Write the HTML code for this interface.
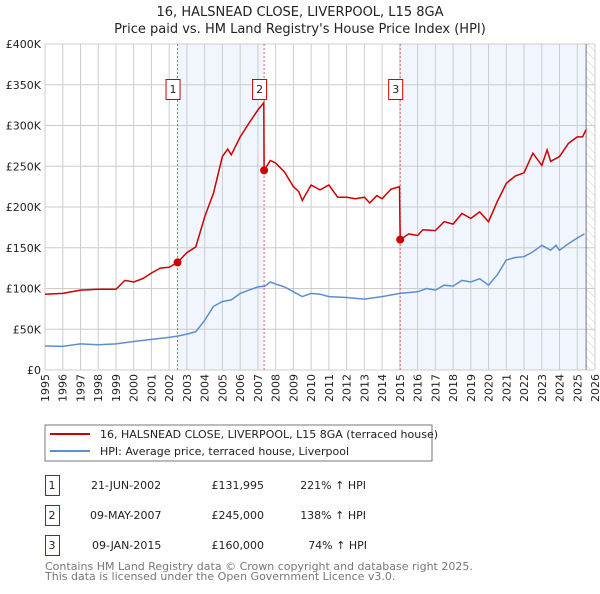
<!DOCTYPE html>
<html><head><meta charset="utf-8"><style>
body{margin:0;background:#fff;font-family:"DejaVu Sans","Liberation Sans",sans-serif;}
svg text{font-family:"DejaVu Sans","Liberation Sans",sans-serif;}
</style></head><body>
<svg id="c" width="600" height="590" xmlns="http://www.w3.org/2000/svg">
<defs><pattern id="hatch" width="6" height="6" patternUnits="userSpaceOnUse" patternTransform="rotate(-45)"><line x1="0" y1="0" x2="0" y2="6" stroke="#ccc" stroke-width="1"/></pattern></defs>
<text x="300" y="16" text-anchor="middle" font-size="13" fill="#222">16, HALSNEAD CLOSE, LIVERPOOL, L15 8GA</text>
<text x="300" y="33" text-anchor="middle" font-size="13" fill="#222">Price paid vs. HM Land Registry's House Price Index (HPI)</text>
<g id="plot"></g>
<g>
<rect x="45" y="425" width="387" height="36" fill="#fff" stroke="#777"/>
<line x1="50" y1="434" x2="90" y2="434" stroke="#cc0000" stroke-width="2"/>
<text x="100" y="438" font-size="11" fill="#222">16, HALSNEAD CLOSE, LIVERPOOL, L15 8GA (terraced house)</text>
<line x1="50" y1="451" x2="90" y2="451" stroke="#5b8fd0" stroke-width="2"/>
<text x="100" y="455" font-size="11" fill="#222">HPI: Average price, terraced house, Liverpool</text>
</g>
<g font-size="11" fill="#222">
<rect x="45.5" y="475.5" width="14" height="20" fill="none" stroke="#cc0000"/><text x="52" y="489" text-anchor="middle">1</text>
<text x="91" y="489">21-JUN-2002</text><text x="264" y="489" text-anchor="end">£131,995</text><text x="366" y="489" text-anchor="end">221% ↑ HPI</text>
<rect x="45.5" y="505.5" width="14" height="20" fill="none" stroke="#cc0000"/><text x="52" y="519" text-anchor="middle">2</text>
<text x="90" y="519">09-MAY-2007</text><text x="264" y="519" text-anchor="end">£245,000</text><text x="366" y="519" text-anchor="end">138% ↑ HPI</text>
<rect x="45.5" y="535.5" width="14" height="20" fill="none" stroke="#cc0000"/><text x="52" y="549" text-anchor="middle">3</text>
<text x="92" y="549">09-JAN-2015</text><text x="264" y="549" text-anchor="end">£160,000</text><text x="367" y="549" text-anchor="end">74% ↑ HPI</text>
</g>
<text x="45" y="570" font-size="11" fill="#777">Contains HM Land Registry data © Crown copyright and database right 2025.</text>
<text x="45" y="580" font-size="11" fill="#777">This data is licensed under the Open Government Licence v3.0.</text>
</svg>
<script>
const hpiYears=[1995,1996,1997,1998,1999,2000,2001,2002,2002.5,2003,2003.5,2004,2004.5,2005,2005.5,2006,2006.5,2007,2007.4,2007.7,2008,2008.5,2009,2009.5,2010,2010.5,2011,2012,2013,2014,2014.5,2015,2016,2016.5,2017,2017.5,2018,2018.5,2019,2019.5,2020,2020.5,2021,2021.5,2022,2022.5,2023,2023.5,2023.8,2024,2024.5,2025,2025.4];
const hpiValues=[29.4,29,32,31,32,35,37.6,40,41.7,44,47,61,78,84,86,94,98,102,103,108,105.5,102,96,90,94,93,90,89,87,90,92,94,96,100,98,104,103,110,108,112,104,117,135,138,139,145,153,147,153,147,155,162,167];
const priceYears=[1995,1996,1997,1998,1999,1999.5,2000,2000.5,2001,2001.5,2002,2002.47,2003,2003.5,2004,2004.5,2005,2005.3,2005.5,2006,2006.5,2007,2007.33,2007.35,2007.7,2008,2008.5,2009,2009.3,2009.5,2010,2010.5,2011,2011.5,2012,2012.5,2013,2013.3,2013.7,2014,2014.5,2014.98,2015.02,2015.5,2016,2016.3,2017,2017.5,2018,2018.5,2019,2019.5,2020,2020.5,2021,2021.5,2022,2022.5,2023,2023.3,2023.5,2024,2024.5,2025,2025.3,2025.5];
const priceValues=[93,94,98,99,99,110,108,112,119,125,126,132,144,151,188,217,262,271,264,286,303,319,328,245,257,254,243,225,219,208,227,221,227,212,212,210,212,205,214,210,222,225,160,167,165,172,171,182,179,192,186,194,182,207,229,238,242,266,251,270,256,262,278,286,286,295];
const saleYears=[2002.47,2007.35,2015.02];
const saleValues=[131.995,245,160];
const saleLabels=["1","2","3"];
const yTicks=[0,50,100,150,200,250,300,350,400];
const yTickLabels=["£0","£50K","£100K","£150K","£200K","£250K","£300K","£350K","£400K"];
const xTicks=[1995,1996,1997,1998,1999,2000,2001,2002,2003,2004,2005,2006,2007,2008,2009,2010,2011,2012,2013,2014,2015,2016,2017,2018,2019,2020,2021,2022,2023,2024,2025,2026];

const X0=45,X1=595,Y0=370,Y1=44;
const xs=y=>X0+(y-1995)/(2026-1995)*(X1-X0);
const ys=v=>Y0-v/400*(Y0-Y1);
const NS="http://www.w3.org/2000/svg";
const g=document.getElementById('plot');
function mk(t,a,p){const e=document.createElementNS(NS,t);for(const k in a)e.setAttribute(k,a[k]);(p||g).appendChild(e);return e;}
const endY=2025.5;
let r;
r=mk('rect',{x:xs(saleYears[0]),y:Y1,width:xs(saleYears[1])-xs(saleYears[0]),height:Y0-Y1,fill:'#eef3fc',opacity:0.8});

r=mk('rect',{x:xs(saleYears[2]),y:Y1,width:xs(endY)-xs(saleYears[2]),height:Y0-Y1,fill:'#eef3fc',opacity:0.8});

r=mk('rect',{x:xs(endY),y:Y1,width:X1-xs(endY),height:Y0-Y1,fill:'url(#hatch)'});

xTicks.forEach(t=>{mk('line',{x1:xs(t),x2:xs(t),y1:Y1,y2:Y0,stroke:'#ccc','stroke-width':1});
 const tx=mk('text',{x:0,y:0,transform:`translate(${xs(t)+4},${Y0+4}) rotate(-90)`,'text-anchor':'end','font-size':11,fill:'#222'});tx.textContent=t;
 });
yTicks.forEach((t,i)=>{mk('line',{x1:X0,x2:X1,y1:ys(t),y2:ys(t),stroke:'#ccc','stroke-width':1});
 const tx=mk('text',{x:X0-4,y:ys(t)+4,'text-anchor':'end','font-size':11,fill:'#222'});tx.textContent=yTickLabels[i];
 });
r=mk('line',{x1:xs(endY),x2:xs(endY),y1:Y1,y2:Y0,stroke:'#777','stroke-width':1});
saleYears.forEach((s,i)=>{
 const l=mk('line',{x1:xs(s),x2:xs(s),y1:Y1,y2:Y0,stroke:'#e06060','stroke-width':1,'stroke-dasharray':'2,2'});
 
 const b=mk('rect',{x:xs(s)-11.5,y:79.5,width:14,height:20,fill:'#fff',stroke:'#cc0000'});
 
 const t=mk('text',{x:xs(s)-4.5,y:93,'text-anchor':'middle','font-size':11,fill:'#222'});t.textContent=saleLabels[i];
 });
const hp=mk('path',{d:hpiYears.map((y,i)=>(i?'L':'M')+xs(y).toFixed(1)+','+ys(hpiValues[i]).toFixed(1)).join(''),fill:'none',stroke:'#5b8fd0','stroke-width':1.5});

const pp=mk('path',{d:priceYears.map((y,i)=>(i?'L':'M')+xs(y).toFixed(1)+','+ys(priceValues[i]).toFixed(1)).join(''),fill:'none',stroke:'#cc0000','stroke-width':1.5});

saleYears.forEach((s,i)=>{const c=mk('circle',{cx:xs(s),cy:ys(saleValues[i]),r:4,fill:'#cc0000'});
 });
</script>
</body></html>
